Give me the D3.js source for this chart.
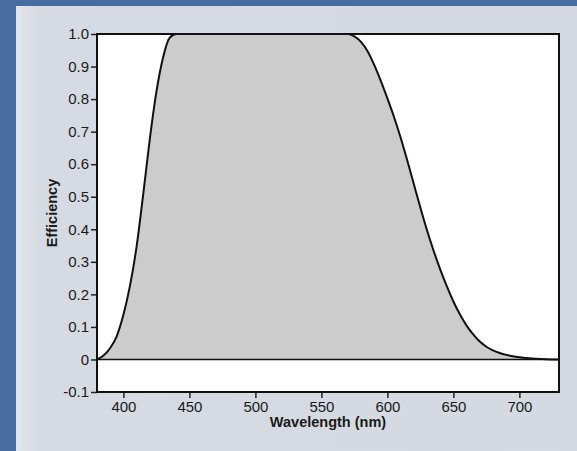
<!doctype html>
<html lang="en">
<head>
  <meta charset="UTF-8">
  <title>Efficiency</title>
<style>
  body{ margin:0; background:#466ca0; }
  text{ font-family: "Liberation Sans", Arial, sans-serif; fill:#1a1a1a; }
  .axis path{ display:none; }
  .axis line{ stroke:#222; stroke-width:1.5px; }
  .tick text{ font-size:15px; }
  .title{ font-size:14.5px; font-weight:bold; }
</style>
</head>
<body>
<script src="https://d3js.org/d3.v7.min.js"></script>
<script>
var wavelength = [380, 385, 390, 395, 400, 405, 410, 415, 420, 425, 430, 435, 440,
                  500, 560, 570, 575, 580, 585, 590, 595, 600, 605, 610, 615, 620, 625,
                  630, 635, 640, 645, 650, 655, 660, 665, 670, 675, 680, 685, 690, 695,
                  700, 710, 720, 730];
var efficiency = [0, 0.012, 0.035, 0.072, 0.137, 0.227, 0.347, 0.507, 0.677, 0.822, 0.927, 0.988, 1.0,
                  1.0, 1.0, 1.0, 0.993, 0.976, 0.947, 0.905, 0.856, 0.802, 0.745, 0.682, 0.612, 0.539, 0.466,
                  0.397, 0.334, 0.277, 0.225, 0.178, 0.138, 0.104, 0.077, 0.055, 0.039, 0.028, 0.02, 0.014, 0.01,
                  0.007, 0.003, 0.001, 0];
var xTicks = [400, 450, 500, 550, 600, 650, 700];
var yTicks = [-0.1, 0, 0.1, 0.2, 0.3, 0.4, 0.5, 0.6, 0.7, 0.8, 0.9, 1.0];

var W = 577, H = 451;
var margin = {top: 34, right: 18, bottom: 59, left: 97},
    width = W - margin.left - margin.right,
    height = H - margin.top - margin.bottom;

var data = wavelength.map(function(w, i){ return {x: w, y: efficiency[i]}; });

var svg = d3.select("body").append("svg")
    .attr("width", W)
    .attr("height", H)
    .style("display", "block");

var defs = svg.append("defs");
var grad = defs.append("linearGradient")
    .attr("id", "panelGrad").attr("x1", 0).attr("x2", 1).attr("y1", 0).attr("y2", 0);
grad.append("stop").attr("offset", "0%").attr("stop-color", "#e2e6ec");
grad.append("stop").attr("offset", "4%").attr("stop-color", "#d6dbe3");
grad.append("stop").attr("offset", "100%").attr("stop-color", "#d5dae2");

defs.append("clipPath").attr("id", "plotClip")
  .append("rect").attr("width", width).attr("height", height);

svg.append("rect")
    .attr("x", 16).attr("y", 6)
    .attr("width", W - 16).attr("height", H - 6)
    .attr("fill", "url(#panelGrad)");

var g = svg.append("g")
    .attr("transform", "translate(" + margin.left + "," + margin.top + ")");

var xScale = d3.scaleLinear().domain([380, 730]).range([0, width]);
var yScale = d3.scaleLinear().domain([-0.1, 1.0]).range([height, 0]);

g.append("rect")
    .attr("width", width).attr("height", height)
    .attr("fill", "#fff");

var area = d3.area()
    .curve(d3.curveMonotoneX)
    .x(function(d){ return xScale(d.x); })
    .y0(yScale(0))
    .y1(function(d){ return yScale(d.y); });

var line = d3.line()
    .curve(d3.curveMonotoneX)
    .x(function(d){ return xScale(d.x); })
    .y(function(d){ return yScale(d.y); });

var plot = g.append("g").attr("clip-path", "url(#plotClip)");

plot.append("path")
    .datum(data)
    .attr("d", area)
    .attr("fill", "#cccccc");

plot.append("line")
    .attr("x1", 0).attr("x2", width)
    .attr("y1", yScale(0)).attr("y2", yScale(0))
    .attr("stroke", "#111").attr("stroke-width", 1.5);

plot.append("path")
    .datum(data)
    .attr("d", line)
    .attr("fill", "none")
    .attr("stroke", "#111")
    .attr("stroke-width", 2);

g.append("g")
    .attr("class", "x axis")
    .attr("transform", "translate(0," + height + ")")
    .call(d3.axisBottom(xScale).tickValues(xTicks).tickSize(6).tickPadding(3));

g.append("g")
    .attr("class", "y axis")
    .call(d3.axisLeft(yScale).tickValues(yTicks).tickSize(6).tickPadding(2)
      .tickFormat(function(d){ return d === 0 ? "0" : d3.format(".1f")(d).replace("\u2212", "-"); }));

g.append("rect")
    .attr("width", width).attr("height", height)
    .attr("fill", "none")
    .attr("stroke", "#111")
    .attr("stroke-width", 2);

svg.append("text")
    .attr("class", "title")
    .attr("x", margin.left + width / 2)
    .attr("y", 427)
    .attr("text-anchor", "middle")
    .text("Wavelength (nm)");

svg.append("text")
    .attr("class", "title")
    .attr("transform", "translate(57," + (margin.top + height / 2) + ") rotate(-90)")
    .attr("text-anchor", "middle")
    .text("Efficiency");
</script>
</body>
</html>
